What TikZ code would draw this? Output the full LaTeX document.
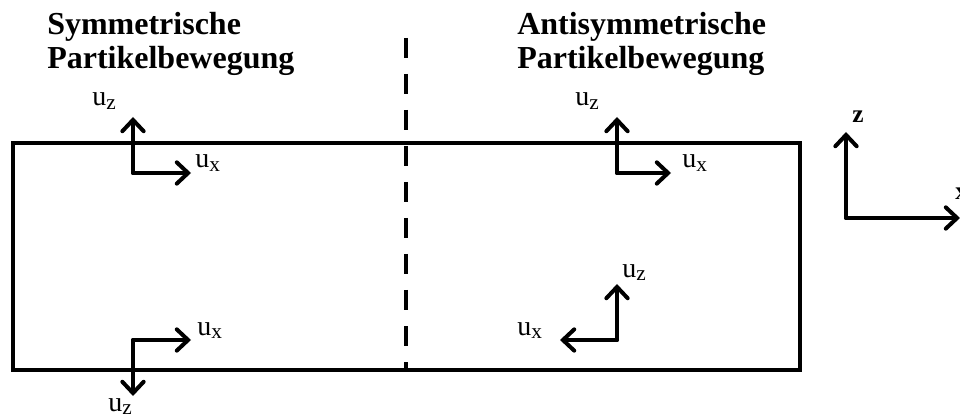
\documentclass[tikz,border=0pt]{standalone}
\usepackage{fontspec}
\setmainfont{Liberation Serif}
\usetikzlibrary{arrows.meta}

\tikzset{
  vec/.style={line width=3pt, line cap=round, line join=round,
    -{Straight Barb[length=8.5pt,width=16pt,line width=3pt,line cap=round]}},
  ulab/.style={anchor=base west, inner sep=0pt, font=\fontsize{21}{22}\selectfont},
  head/.style={anchor=north west, inner sep=0pt, align=left,
    font=\fontsize{24}{25.5}\selectfont\bfseries}
}
\newcommand{\usub}[1]{u\raisebox{-0.3ex}{\fontsize{16}{16}\selectfont #1}}

\begin{document}
\begin{tikzpicture}[x=0.75pt,y=0.75pt,yscale=-1,xscale=1]
                \useasboundingbox (0,0) rectangle (960,420);

                %Shape: Rectangle [id:plate]
                \draw [line width=3pt, line join=miter] (13,143) rectangle (800,370) ;
                %Straight Lines [id:symline]
                \coordinate (mtop) at (406,38);
                \coordinate (mbot) at (406,370);
                \draw [line width=3pt, dash pattern=on 15pt off 12pt] (mtop) -- (mbot) ;

                % symmetric, top
                \coordinate (st) at (133,173);
                \coordinate (stz) at (133,117);
                \coordinate (stx) at (191,173);
                \draw [vec] (st) -- (stz) ;
                \draw [vec] (st) -- (stx) ;
                % symmetric, bottom
                \coordinate (sb) at (133,340);
                \coordinate (sbz) at (133,396);
                \coordinate (sbx) at (191,340);
                \draw [vec] (sb) -- (sbz) ;
                \draw [vec] (sb) -- (sbx) ;
                % antisymmetric, top
                \coordinate (at) at (617,173);
                \coordinate (atz) at (617,117);
                \coordinate (atx) at (671,173);
                \draw [vec] (at) -- (atz) ;
                \draw [vec] (at) -- (atx) ;
                % antisymmetric, bottom
                \coordinate (ab) at (617,340);
                \coordinate (abz) at (617,284);
                \coordinate (abx) at (560,340);
                \draw [vec] (ab) -- (abz) ;
                \draw [vec] (ab) -- (abx) ;
                % axes
                \coordinate (o) at (846,218);
                \coordinate (oz) at (846,132);
                \coordinate (ox) at (960,218);
                \draw [vec] (o) -- (oz) ;
                \draw [vec] (o) -- (ox) ;

                % Text Node
                \node [head] (symhead) at (47,12) {Symmetrische\\Partikelbewegung};
                % Text Node
                \node [head] (antihead) at (517,12) {Antisymmetrische\\Partikelbewegung};
                % Text Node
                \node [ulab] (stzlab) at (92,106) {\usub{z}};
                \node [ulab] (stxlab) at (195,168) {\usub{x}};
                \node [ulab] (sbxlab) at (197,335) {\usub{x}};
                \node [ulab] (sbzlab) at (108,411) {\usub{z}};
                \node [ulab] (atzlab) at (575,106) {\usub{z}};
                \node [ulab] (atxlab) at (682,168) {\usub{x}};
                \node [ulab] (abzlab) at (622,277) {\usub{z}};
                \node [ulab] (abxlab) at (517,335) {\usub{x}};
                % Text Node
                \node [anchor=base west, inner sep=0pt, font=\fontsize{19}{20}\selectfont\bfseries] (zlab) at (852,123) {z};
                \node [anchor=base west, inner sep=0pt, font=\fontsize{19}{20}\selectfont\bfseries] (xlab) at (955,200) {x};

\end{tikzpicture}
\end{document}
